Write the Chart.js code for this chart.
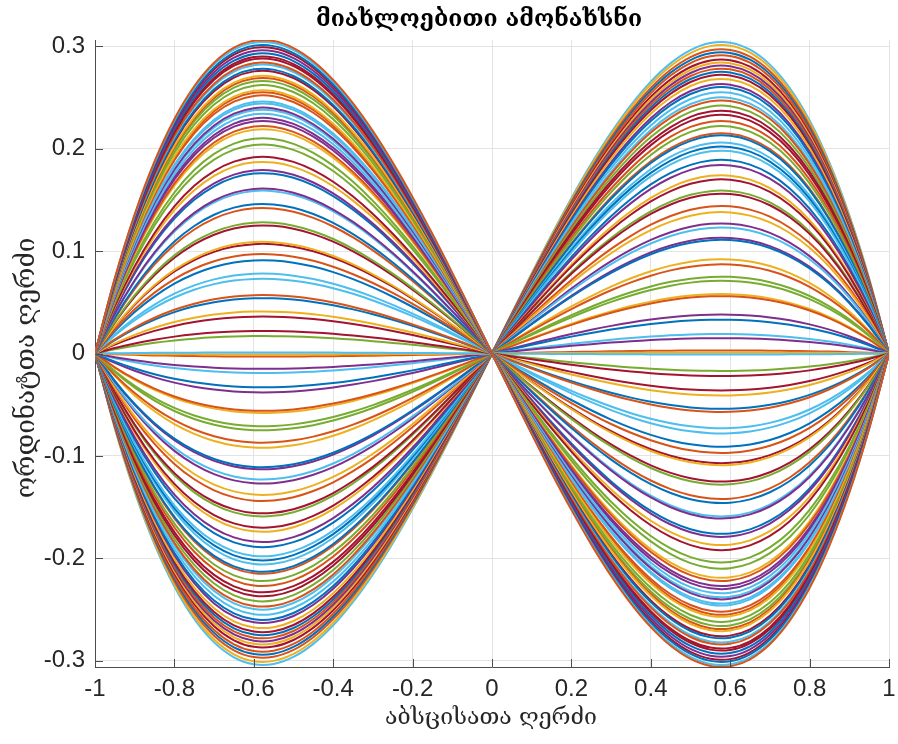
<!DOCTYPE html>
<html>
<head>
<meta charset="utf-8">
<script src="https://cdn.jsdelivr.net/npm/chart.js@4/dist/chart.umd.min.js"></script>
<style>
  html, body { margin: 0; padding: 0; background: #fff; }
  #wrap { width: 898px; height: 744px; }
</style>
</head>
<body>
<div id="wrap"><canvas id="myChart" width="898" height="744"></canvas></div>
<script>
// texts
const titleText = 'მიახლოებითი ამონახსნი';
const xLabelText = 'აბსცისათა ღერძი';
const yLabelText = 'ორდინატთა ღერძი';

// tick values
const xTicks = [-1, -0.8, -0.6, -0.4, -0.2, 0, 0.2, 0.4, 0.6, 0.8, 1];
const yTicks = [-0.3, -0.2, -0.1, 0, 0.1, 0.2, 0.3];

// sample positions along x and the curve shape (peak = 1 at x ~ -0.58)
const xs = [-1, -0.95, -0.9, -0.85, -0.8, -0.75, -0.7, -0.65, -0.6, -0.55, -0.5, -0.45, -0.4, -0.35, -0.3, -0.25, -0.2, -0.15, -0.1, -0.05,
  0, 0.05, 0.1, 0.15, 0.2, 0.25, 0.3, 0.35, 0.4, 0.45, 0.5, 0.55, 0.6, 0.65, 0.7, 0.75, 0.8, 0.85, 0.9, 0.95, 1];
const shape = [0, 0.2406, 0.4443, 0.6128, 0.7483, 0.8525, 0.9275, 0.9753, 0.9977, 0.9967, 0.9743, 0.9324, 0.8730, 0.7979, 0.7093, 0.6089, 0.4988, 0.3809, 0.2572, 0.1296,
  0, -0.1296, -0.2572, -0.3809, -0.4988, -0.6089, -0.7093, -0.7979, -0.8730, -0.9324, -0.9743, -0.9967, -0.9977, -0.9753, -0.9275, -0.8525, -0.7483, -0.6128, -0.4443, -0.2406, 0];

// value of each curve at its left peak (x ~ -0.58)
const peaks = [
  0.306, 0.304, 0.301, 0.299, 0.296, 0.293, 0.290, 0.288, 0.284, 0.282,
  0.278, 0.276, 0.271, 0.269, 0.266, 0.262, 0.257, 0.255, 0.252, 0.246,
  0.244, 0.240, 0.238, 0.234, 0.230, 0.227, 0.222, 0.219, 0.210, 0.204,
  0.192, 0.187, 0.179, 0.176, 0.161, 0.159, 0.146, 0.142, 0.128, 0.125,
  0.109, 0.107, 0.097, 0.091, 0.078, 0.073, 0.057, 0.054, 0.041, 0.036,
  0.022, 0.017, 0.001, -0.001, -0.003, -0.015, -0.019, -0.033, -0.038, -0.056,
  -0.058, -0.071, -0.075, -0.087, -0.092, -0.111, -0.113, -0.123, -0.127, -0.138,
  -0.144, -0.156, -0.159, -0.170, -0.174, -0.184, -0.189, -0.198, -0.202, -0.206,
  -0.213, -0.215, -0.222, -0.227, -0.233, -0.237, -0.242, -0.247, -0.250, -0.255,
  -0.260, -0.263, -0.268, -0.272, -0.275, -0.278, -0.281, -0.284, -0.287, -0.291,
  -0.294, -0.297, -0.301, -0.304
];
// colour letter of each curve (MATLAB default order)
const colorKeys = [
  'O','L','B','R','P','B','R','R','O','L',
  'B','R','Y','O','G','G','Y','O','O','L',
  'L','P','L','L','P','P','O','Y','G','G',
  'R','Y','P','B','P','L','B','O','G','R',
  'Y','R','O','B','L','L','O','B','Y','R',
  'R','G','L','Y','O','P','L','B','P','O',
  'Y','G','G','O','Y','B','P','L','P','Y',
  'O','R','G','R','Y','P','B','L','B','L',
  'B','O','G','O','R','R','G','O','L','L',
  'B','P','Y','R','B','O','P','Y','R','O',
  'B','O','Y','L'
];
const palette = { B: '#0072BD', O: '#D95319', Y: '#EDB120', P: '#7E2F8E', G: '#77AC30', L: '#4DBEEE', R: '#A2142F' };

const datasets = peaks.map((p, i) => ({
  data: xs.map((x, j) => ({ x: x, y: p * shape[j] })),
  borderColor: palette[colorKeys[i]],
  borderWidth: 2,
  pointRadius: 0,
  tension: 0.3,
  fill: false
}));

const fmt = v => {
  const r = Math.round(v * 10) / 10;
  return r === 0 ? '0' : String(r);
};

// inward tick marks and the texts
const decor = {
  id: 'decor',
  afterDraw(chart) {
    const ctx = chart.ctx;
    const a = chart.chartArea;
    const xs_ = chart.scales.x, ys_ = chart.scales.y;
    ctx.save();
    ctx.strokeStyle = '#4d4d4d';
    ctx.lineWidth = 1;
    xTicks.forEach(t => {
      const px = Math.round(xs_.getPixelForValue(t)) + 0.5;
      ctx.beginPath(); ctx.moveTo(px, a.bottom); ctx.lineTo(px, a.bottom - 8); ctx.stroke();
    });
    yTicks.forEach(t => {
      const py = Math.round(ys_.getPixelForValue(t)) + 0.5;
      ctx.beginPath(); ctx.moveTo(a.left, py); ctx.lineTo(a.left + 8, py); ctx.stroke();
    });
    ctx.fillStyle = '#000';
    ctx.textAlign = 'center';
    ctx.textBaseline = 'middle';
    ctx.font = 'bold 23px "DejaVu Serif"';
    ctx.fillText(titleText, 479, 20);
    ctx.fillStyle = '#262626';
    ctx.font = '23px "DejaVu Serif"';
    ctx.fillText(xLabelText, 491, 718);
    ctx.font = '26px "DejaVu Serif"';
    ctx.translate(27, 368);
    ctx.rotate(-Math.PI / 2);
    ctx.fillText(yLabelText, 0, 0);
    ctx.restore();
  }
};

new Chart(document.getElementById('myChart'), {
  type: 'line',
  data: { datasets: datasets },
  options: {
    responsive: false,
    animation: false,
    devicePixelRatio: 1,
    layout: { padding: { top: 40, right: 9, left: 0, bottom: 0 } },
    plugins: { legend: { display: false }, tooltip: { enabled: false }, title: { display: false } },
    scales: {
      x: {
        type: 'linear',
        min: -1, max: 1,
        afterBuildTicks: s => { s.ticks = xTicks.map(v => ({ value: v })); },
        afterFit: s => { s.height = 77; s.paddingLeft = 0; s.paddingRight = 0; },
        ticks: { color: '#262626', font: { family: 'Liberation Sans', size: 24 }, padding: 8, maxRotation: 0, callback: v => fmt(v) },
        grid: { color: '#e3e3e3', drawTicks: false },
        border: { color: '#4d4d4d', width: 1 }
      },
      y: {
        type: 'linear',
        min: -0.306, max: 0.306,
        afterBuildTicks: s => { s.ticks = yTicks.map(v => ({ value: v })); },
        afterFit: s => { s.width = 95; s.paddingTop = 0; s.paddingBottom = 0; },
        ticks: { color: '#262626', font: { family: 'Liberation Sans', size: 24 }, padding: 10, callback: v => fmt(v) },
        grid: { color: '#e3e3e3', drawTicks: false },
        border: { color: '#4d4d4d', width: 1 }
      }
    }
  },
  plugins: [decor]
});
</script>
</body>
</html>
